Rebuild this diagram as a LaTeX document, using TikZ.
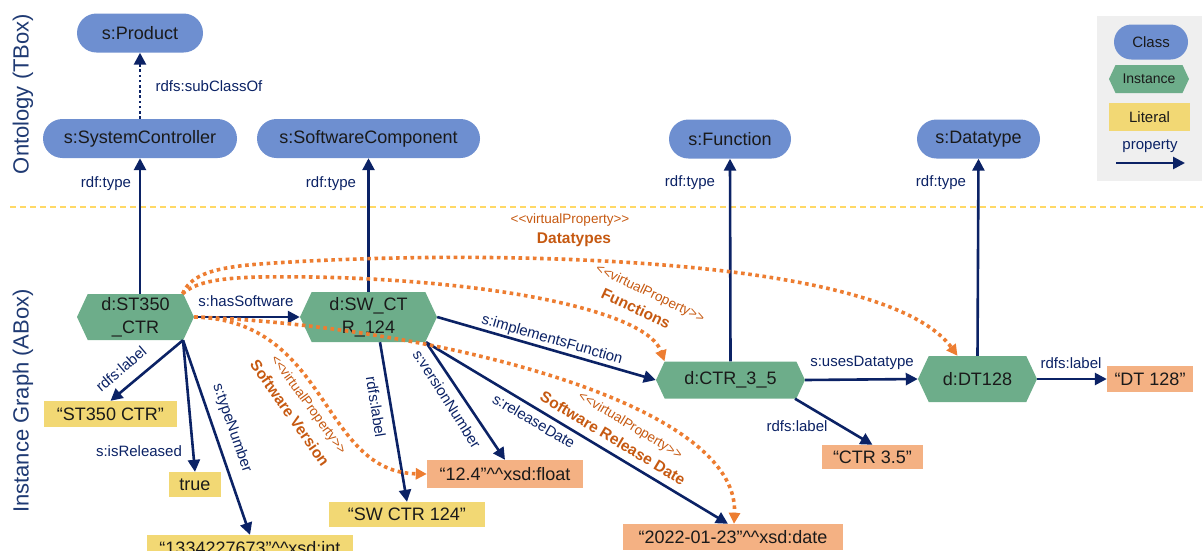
\documentclass[tikz,border=0pt]{standalone}
\usepackage{fontspec}
\setmainfont{Liberation Sans}
\usetikzlibrary{arrows.meta,shapes.symbols,calc}
\definecolor{clsblue}{HTML}{6E8FD0}
\definecolor{instgreen}{HTML}{6DAD8A}
\definecolor{lityellow}{HTML}{F2D874}
\definecolor{litorange}{HTML}{F4B183}
\definecolor{navy}{HTML}{0B2265}
\definecolor{titlenavy}{HTML}{1F3A73}
\definecolor{vorange}{HTML}{ED7D31}
\definecolor{vtext}{HTML}{C65911}
\definecolor{sepyellow}{HTML}{FFD966}
\definecolor{legendgray}{HTML}{EFEFEF}
\definecolor{nodetext}{HTML}{1A1A1A}
\newcommand{\myfs}[1]{\fontsize{#1}{#1}\selectfont}
\newcommand{\vprp}{<\kern0pt<virtualProperty>\kern0pt>}
\tikzset{
  cls/.style={fill=clsblue, rounded corners=19.5pt, minimum height=39pt, inner sep=0pt, font=\myfs{18}, text=nodetext},
  inst/.style={shape=signal, signal to=east and west, signal pointer angle=130, fill=instgreen, inner sep=0pt, font=\fontsize{18}{23}\selectfont, align=center, text=nodetext},
  lit/.style={minimum height=26pt, inner sep=0pt, font=\myfs{18}, text=nodetext},
  litY/.style={lit, fill=lityellow},
  litO/.style={lit, fill=litorange},
  prop/.style={draw=navy, line width=2.6pt, -{Triangle[length=12pt,width=12pt]}},
  lbl/.style={text=navy, font=\myfs{15}, inner sep=0pt},
  vprop/.style={draw=vorange, line width=3.6pt, dash pattern=on 3.6pt off 3.6pt, -{Triangle[length=11pt,width=11pt]}},
  vlbl/.style={text=vtext, font=\myfs{13.5}, inner sep=0pt},
  vbold/.style={text=vtext, font=\bfseries\myfs{15.5}, inner sep=0pt},
}
\begin{document}
\begin{tikzpicture}[x=1pt,y=-1pt]
\useasboundingbox (0,0) rectangle (1203,550);
% separator
\draw[sepyellow, line width=1.5pt, dash pattern=on 6pt off 4pt] (10,207) -- (1203,207);
% side titles
\node[rotate=90, text=titlenavy, font=\myfs{22}, inner sep=0pt] (ttbox) at (23,94) {Ontology (TBox)};
\node[rotate=90, text=titlenavy, font=\myfs{22}, inner sep=0pt] (tabox) at (23,401) {Instance Graph (ABox)};
% legend
\node[fill=legendgray, minimum width=105pt, minimum height=165pt, inner sep=0pt] (legend) at (1149.5,98.5) {};
\node[cls, minimum width=74pt, minimum height=35pt, rounded corners=17.5pt, font=\myfs{15}] (lgclass) at (1151,42) {Class};
\node[inst, minimum width=80pt, minimum height=28pt, font=\myfs{14}] (lginst) at (1149,79) {Instance};
\node[litY, minimum width=81pt, minimum height=28pt, font=\myfs{15}] (lglit) at (1149.5,117) {Literal};
\node[lbl] (lgprop) at (1150,146) {property};
\coordinate (lga) at (1116,163);
\coordinate (lgb) at (1185,163);
\draw[prop] (lga) -- (lgb);
% classes
\node[cls, minimum width=126pt] (prod) at (140,33) {s:Product};
\node[cls, minimum width=194pt] (sc) at (140,138.5) {s:SystemController};
\node[cls, minimum width=223pt] (swc) at (368.5,138.5) {s:SoftwareComponent};
\node[cls, minimum width=122pt] (fn) at (730,139) {s:Function};
\node[cls, minimum width=123pt] (dtype) at (978.5,139) {s:Datatype};
% instances
\node[inst, minimum width=117pt, minimum height=46pt] (st) at (135.5,317) {d:ST350\\\_CTR};
\node[inst, minimum width=137pt, minimum height=50pt] (sw) at (368.5,317) {d:SW\_CT\\R\_124};
\node[inst, minimum width=149pt, minimum height=37pt] (ctr) at (730.5,380) {d:CTR\_3\_5};
\node[inst, minimum width=119pt, minimum height=46pt] (dt) at (977.5,379) {d:DT128};
% literals
\node[litY, minimum width=133pt] (l1) at (110.5,414) {“ST350 CTR”};
\node[litY, minimum width=52pt, minimum height=25pt] (l2) at (195,484.5) {true};
\node[litY, minimum width=206pt] (l3) at (250,548) {“1334227673”\textasciicircum\textasciicircum xsd:int};
\node[litY, minimum width=156pt, minimum height=25pt] (l4) at (407,514.5) {“SW CTR 124”};
\node[litO, minimum width=156pt, minimum height=28pt] (l5) at (505,474) {“12.4”\textasciicircum\textasciicircum xsd:float};
\node[litO, minimum width=220pt] (l6) at (733,537) {“2022-01-23”\textasciicircum\textasciicircum xsd:date};
\node[litO, minimum width=101pt, minimum height=24pt] (l7) at (872.5,457) {“CTR 3.5”};
\node[litO, minimum width=86pt] (l8) at (1150,379) {“DT 128”};
% ontology edges
\draw[prop, dash pattern=on 2.6pt off 2.6pt] (sc.north) -- (prod.south);
\node[lbl] (sub) at (209,86) {rdfs:subClassOf};
\draw[prop] (st.north -| sc.south) -- (sc.south);
\draw[prop] (sw.north) -- (swc.south);
\draw[prop] (ctr.north) -- (fn.south);
\draw[prop] (dt.north) -- (dtype.south);
\node[lbl] (t1) at (106,184) {rdf:type};
\node[lbl] (t2) at (331,184) {rdf:type};
\node[lbl] (t3) at (690,183) {rdf:type};
\node[lbl] (t4) at (941,183) {rdf:type};
% instance edges
\coordinate (stb) at ($(st.south)+(47.5,0)$);
\coordinate (swb1) at ($(sw.south)+(11.5,0)$);
\coordinate (swb2) at ($(sw.south)+(57.5,0)$);
\coordinate (ctrb) at ($(ctr.south)+(64.5,0)$);
\coordinate (l6a) at ($(l6.north)+(-5,0)$);
\draw[prop] (stb) -- (l1.north);
\draw[prop] (stb) -- (l2.north);
\draw[prop] (stb) -- (l3.north);
\draw[prop] (st.east) -- (sw.west);
\draw[prop] (swb1) -- (l4.north);
\draw[prop] (swb2) -- (l5.north);
\draw[prop] (swb2) -- (l6a);
\draw[prop] (sw.east) -- (ctr.west);
\draw[prop] (ctr.east) -- (dt.west);
\draw[prop] (dt.east) -- (l8.west);
\draw[prop] (ctrb) -- (l7.north);
\node[lbl] (hs) at (246,301) {s:hasSoftware};
\node[lbl, rotate=-16.1] (impl) at (552,340) {s:implementsFunction};
\node[lbl] (uses) at (862,363) {s:usesDatatype};
\node[lbl] (dtl) at (1071,363) {rdfs:label};
\node[lbl] (ctrl) at (797,426) {rdfs:label};
\node[lbl, rotate=40.7] (stl) at (121,369) {rdfs:label};
\node[lbl] (isr) at (139,451) {s:isReleased};
\node[lbl, rotate=-71] (tn) at (232,428) {s:typeNumber};
\node[lbl, rotate=-81] (swl) at (376,407) {rdfs:label};
\node[lbl, rotate=-57.6] (vn) at (447,399) {s:versionNumber};
\node[lbl, rotate=-30.5] (rd) at (534,421) {s:releaseDate};
% virtual properties
\coordinate (stne) at ($(st.north)+(47,0)$);
\coordinate (dtin) at ($(dt.north)+(-20,0)$);
\coordinate (ctrin) at ($(ctr.north)+(-66,0)$);
\coordinate (l6b) at ($(l6.north)+(1,0)$);
\draw[vprop] (stne) .. controls (190,278) and (205,268) .. (260,264) .. controls (450,250) and (880,250) .. (dtin);
\draw[vprop] (stne) .. controls (195,283) and (215,278) .. (260,277) .. controls (450,274) and (645,305) .. (ctrin);
\draw[vprop] (st.east) .. controls (330,320) and (320,472) .. (l5.west);
\draw[vprop] (st.east) .. controls (420,325) and (740,400) .. (l6b);
\node[vlbl] (dtv) at (570,220) {\vprp};
\node[vbold] (dtn) at (574,240) {Datatypes};
\node[vlbl, rotate=-25.5] (fnv) at (650,294) {\vprp};
\node[vbold, rotate=-25] (fnn) at (636,308) {Functions};
\node[vlbl, rotate=-54] (svv) at (308,405) {\vprp};
\node[vbold, rotate=-55] (svn) at (290,413) {Software Version};
\node[vlbl, rotate=-31] (rdv) at (630,426) {\vprp};
\node[vbold, rotate=-31] (rdn) at (613,438) {Software Release Date};
\end{tikzpicture}
\end{document}
